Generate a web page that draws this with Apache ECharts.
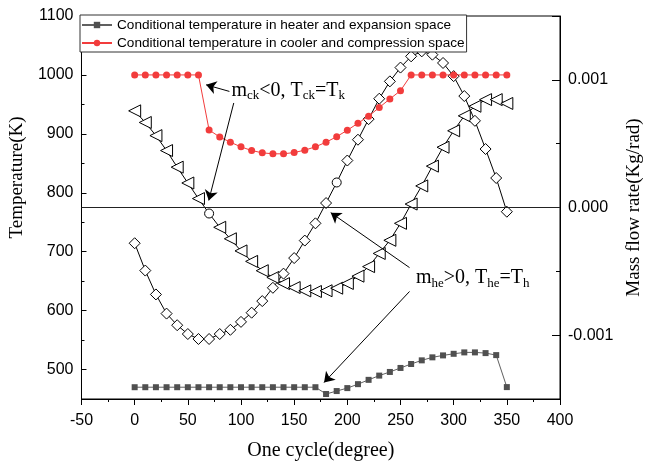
<!DOCTYPE html>
<html><head><meta charset="utf-8">
<script src="https://cdn.jsdelivr.net/npm/echarts@6/dist/echarts.min.js"></script>
<style>html,body{margin:0;padding:0;background:#fff}#c{width:654px;height:466px}</style>
</head><body><div id="c"></div>
<script>
// ---- data ----
const degrees = [0,10,20,30,40,50,60,70,80,90,100,110,120,130,140,150,160,170,180,190,200,210,220,230,240,250,260,270,280,290,300,310,320,330,340,350];
const heaterTemp = [470,470,470,470,470,470,470,470,470,470,470,470,470,470,470,470,470,470,458.5,463.5,468.5,475.2,482.5,489.7,495.9,502.7,509.4,515.6,520.7,524,526.7,529.1,529.1,527.9,524.5,470.2];
const coolerTemp = [1000,1000,1000,1000,1000,1000,1000,906.5,894.7,885.8,877.9,871.7,867.8,866.1,866.1,868.3,872.3,878,885.8,895.2,906.2,918,930,944.7,959.2,973.3,1000,1000,1000,1000,1000,1000,1000,1000,1000,1000];
const massFlowCk = [0.000757,0.000666,0.000563,0.000446,0.000316,0.000192,0.000070,-0.000047,-0.000155,-0.000245,-0.00034,-0.000422,-0.000495,-0.000548,-0.000596,-0.000627,-0.000653,-0.000658,-0.000652,-0.000632,-0.000595,-0.000538,-0.000463,-0.00036,-0.000257,-0.000124,0.000027,0.000169,0.000324,0.000472,0.000601,0.000718,0.000793,0.000845,0.000845,0.000815];
const massFlowHe = [-0.00028,-0.000494,-0.000681,-0.000831,-0.000922,-0.000991,-0.00103,-0.00103,-0.000991,-0.000958,-0.000896,-0.000824,-0.000733,-0.000629,-0.000518,-0.000396,-0.000259,-0.000124,0.000035,0.000196,0.000368,0.000531,0.000692,0.000852,0.000988,0.001096,0.001184,0.001223,0.001197,0.001132,0.001029,0.000873,0.000679,0.000458,0.000231,-0.000033];
const ckCircleDeg = 70;
const heCircleDeg = 190;
const seriesNames = ['Conditional temperature in heater and expansion space','Conditional temperature in cooler and compression space'];
// annotation anchors (axis values: degree, K)
const note1Pos = [90.5, 973];
const note2Pos = [264, 655];
const arrows = [
  [[89.1, 972], [67.2, 983.2]],
  [[93.2, 952.4], [69.7, 787]],
  [[258.5, 673], [184.4, 766.3]],
  [[258.5, 632.5], [178.1, 478]]
];

const serif = "'Liberation Serif','Times New Roman',serif";
const sans = "'Liberation Sans',Arial,sans-serif";

function pairs(ys, circleDeg) {
  return degrees.map((d, i) => {
    const item = { value: [d, ys[i]] };
    if (d === circleDeg) { item.symbol = 'circle'; item.symbolSize = 9; item.symbolRotate = 0; }
    return item;
  });
}

const chart = echarts.init(document.getElementById('c'), null, { renderer: 'canvas' });
const rich = {
  m: { fontFamily: serif, fontSize: 20, color: '#000', lineHeight: 23 },
  s: { fontFamily: serif, fontSize: 13, color: '#000', lineHeight: 15, verticalAlign: 'bottom' }
};
chart.setOption({
  animation: false,
  backgroundColor: '#fff',
  grid: { left: 80, right: 94, top: 16, bottom: 63, show: true, borderColor: '#000', borderWidth: 1, containLabel: false },
  legend: {
    left: 80, top: 15, orient: 'vertical',
    padding: [3, 2, 2, 1], itemGap: 4, itemWidth: 30, itemHeight: 8,
    backgroundColor: '#fff', borderColor: '#333', borderWidth: 1,
    textStyle: { fontFamily: sans, fontSize: 13.6, color: '#000', lineHeight: 14 },
    data: seriesNames
  },
  xAxis: {
    type: 'value', min: -50, max: 400, interval: 50,
    name: 'One cycle(degree)', nameLocation: 'middle', nameGap: 42,
    nameTextStyle: { fontFamily: serif, fontSize: 20, color: '#000' },
    axisLine: { onZero: false, lineStyle: { color: '#000' } },
    axisTick: { show: true, inside: false, length: 6, lineStyle: { color: '#000' } },
    minorTick: { show: true, splitNumber: 2, length: 3, lineStyle: { color: '#000' } },
    axisLabel: { fontFamily: sans, fontSize: 16, color: '#000', margin: 14 },
    splitLine: { show: false }
  },
  yAxis: [{
    type: 'value', min: 450, max: 1100, minInterval: 100, maxInterval: 100, splitNumber: 7,
    position: 'left',
    name: 'Temperature(K)', nameLocation: 'middle', nameGap: 50, nameRotate: 90,
    nameTextStyle: { fontFamily: serif, fontSize: 19, color: '#000', padding: [0, 0, 0, 60] },
    axisLine: { show: true, onZero: false, lineStyle: { color: '#000' } },
    axisTick: { show: true, inside: true, length: 5, lineStyle: { color: '#000' } },
    minorTick: { show: true, splitNumber: 2, length: 3, lineStyle: { color: '#000' } },
    axisLabel: { fontFamily: sans, fontSize: 16, color: '#000', margin: 8, showMinLabel: false,
      formatter: v => String(v) },
    splitLine: { show: false }
  }, {
    type: 'value', min: -0.0015, max: 0.0015, minInterval: 0.001, maxInterval: 0.001, splitNumber: 3,
    position: 'right',
    name: 'Mass flow rate(Kg/rad)', nameLocation: 'middle', nameGap: 60, nameRotate: 90,
    nameTextStyle: { fontFamily: serif, fontSize: 19, color: '#000' },
    axisLine: { show: true, onZero: false, lineStyle: { color: '#000' } },
    axisTick: { show: true, inside: true, length: 8, lineStyle: { color: '#000' } },
    minorTick: { show: true, splitNumber: 2, length: 4, lineStyle: { color: '#000' } },
    axisLabel: { fontFamily: sans, fontSize: 16, color: '#000', margin: 8, showMinLabel: false, showMaxLabel: false,
      formatter: v => v.toFixed(3) },
    splitLine: { show: false }
  }],
  series: [{
    name: seriesNames[0], type: 'line', yAxisIndex: 0,
    data: degrees.map((d, i) => [d, heaterTemp[i]]),
    symbol: 'rect', symbolSize: 6,
    itemStyle: { color: '#505050' }, lineStyle: { color: '#606060', width: 1 },
    markLine: {
      silent: true, symbol: ['none', 'arrow'], symbolSize: 10,
      lineStyle: { color: '#000', width: 1, type: 'solid' }, label: { show: false },
      data: arrows.map(a => [{ coord: a[0] }, { coord: a[1] }])
    },
    markPoint: {
      silent: true, symbol: 'circle', symbolSize: 1, itemStyle: { color: 'rgba(0,0,0,0)' },
      label: { show: true, position: 'right', distance: 0, rich: rich },
      data: [
        { coord: note1Pos, label: { formatter: '{m|m}{s|ck}{m|<0, T}{s|ck}{m|=T}{s|k}' } },
        { coord: note2Pos, label: { formatter: '{m|m}{s|he}{m|>0, T}{s|he}{m|=T}{s|h}' } }
      ]
    },
    z: 3
  }, {
    name: seriesNames[1], type: 'line', yAxisIndex: 0,
    data: degrees.map((d, i) => [d, coolerTemp[i]]),
    symbol: 'circle', symbolSize: 7,
    itemStyle: { color: '#f23c3c' }, lineStyle: { color: '#f23c3c', width: 1 },
    z: 3
  }, {
    name: 'mck', type: 'line', yAxisIndex: 1,
    data: pairs(massFlowCk, ckCircleDeg),
    symbol: 'triangle', symbolSize: 12, symbolRotate: 90, showAllSymbol: true,
    itemStyle: { color: '#fff', borderColor: '#000', borderWidth: 1 },
    lineStyle: { color: '#000', width: 1 },
    markLine: {
      silent: true, symbol: 'none', label: { show: false },
      lineStyle: { color: '#222', width: 1, type: 'solid' },
      data: [{ yAxis: 0 }]
    },
    z: 2
  }, {
    name: 'mhe', type: 'line', yAxisIndex: 1,
    data: pairs(massFlowHe, heCircleDeg),
    symbol: 'diamond', symbolSize: 11, showAllSymbol: true,
    itemStyle: { color: '#fff', borderColor: '#000', borderWidth: 1 },
    lineStyle: { color: '#000', width: 1 },
    z: 2
  }]
});
</script></body></html>
